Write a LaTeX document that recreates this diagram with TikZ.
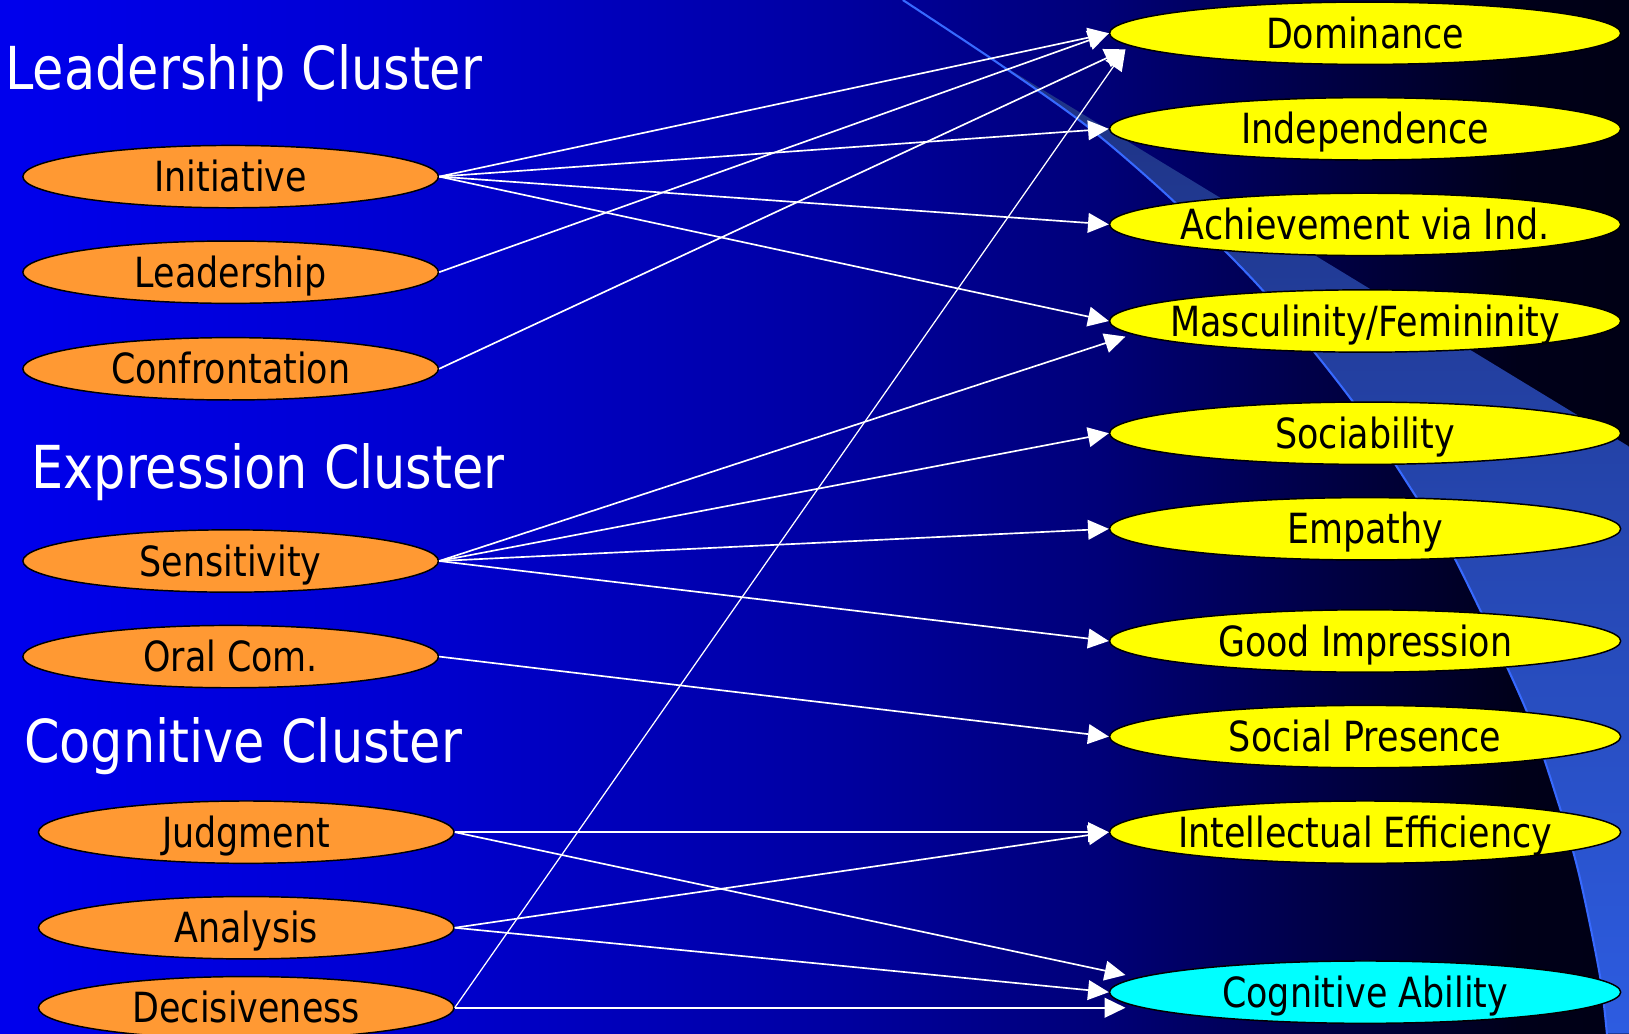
\documentclass[tikz,border=0pt]{standalone}
\usepackage{fontspec}
\usetikzlibrary{shapes.geometric,arrows.meta}
\newfontfamily\headfont[FakeStretch=0.86]{DejaVu Sans}
\newfontfamily\nodefont[FakeStretch=0.84]{DejaVu Sans}
\definecolor{orangefill}{RGB}{255,153,51}
\definecolor{yellowfill}{RGB}{255,255,0}
\definecolor{cyanfill}{RGB}{0,255,255}
\definecolor{bandtop}{RGB}{30,50,130}
\definecolor{bandbot}{RGB}{45,92,225}
\definecolor{bandline}{RGB}{55,105,255}
\pgfdeclarehorizontalshading{bgshade}{100bp}{rgb(0bp)=(0,0,0.93); rgb(25bp)=(0,0,0.93); rgb(37.5bp)=(0,0,0.82); rgb(49.5bp)=(0,0,0.65); rgb(58.75bp)=(0,0,0.47); rgb(65bp)=(0,0,0.29); rgb(69.5bp)=(0,0,0.16); rgb(71.5bp)=(0,0,0.1); rgb(75bp)=(0,0,0.08); rgb(100bp)=(0,0,0.08)}
\newcommand{\ctr}[1]{\makebox[0pt][c]{#1}}
\tikzset{
  heading/.style={anchor=base west, text=white, inner sep=0pt, font=\headfont\fontsize{57}{62}\selectfont},
  oval/.style={ellipse, draw=black, line width=1.4pt, inner sep=0pt, minimum height=60pt,
    text height=29.2pt, text depth=0pt, font=\nodefont\fontsize{40}{44}\selectfont, text=black},
  leftoval/.style={oval, fill=orangefill, minimum width=400pt},
  rightoval/.style={oval, fill=yellowfill, minimum width=492pt},
  cogoval/.style={oval, fill=cyanfill, minimum width=492pt},
  arr/.style={draw=white, line width=1.6pt, -{Triangle[length=20pt,width=19pt,fill=white]}}
}
\begin{document}
\begin{tikzpicture}[x=1pt,y=-1pt]
\useasboundingbox (0,0) rectangle (1568,995);
\clip (0,0) rectangle (1568,995);
% background
\shade[shading=bgshade] (0,0) rectangle (1568,995);
% light band
\shade[top color=bandtop, bottom color=bandbot]
  plot[smooth] coordinates {(952,55) (1047,122) (1129,193) (1215,279) (1301,385) (1363,478) (1401,539) (1468,681) (1501,776) (1520,842) (1540,939) (1547,995)}
  -- (1570,995) -- (1570,431) -- cycle;
\draw[bandline, line width=2pt]
  plot[smooth] coordinates {(869,0) (961,61) (1047,122) (1129,193) (1215,279) (1301,385) (1363,478) (1401,539) (1468,681) (1501,776) (1520,842) (1540,939) (1547,998)};
% headings
\node[heading] (hlead) at (5,86) {Leadership Cluster};
\node[heading] (hexpr) at (30,470) {Expression Cluster};
\node[heading] (hcog) at (23,734) {Cognitive Cluster};
% left nodes
\node[leftoval] (init) at (222,170) {\ctr{Initiative}};
\node[leftoval] (lead) at (222,262) {\ctr{Leadership}};
\node[leftoval] (conf) at (222,355) {\ctr{Confrontation}};
\node[leftoval] (sens) at (222,540) {\ctr{Sensitivity}};
\node[leftoval] (oral) at (222,632) {\ctr{Oral Com.}};
\node[leftoval] (judg) at (237,801) {\ctr{Judgment}};
\node[leftoval] (anal) at (237,893) {\ctr{Analysis}};
\node[leftoval] (deci) at (237,970) {\ctr{Decisiveness}};
% right nodes
\node[rightoval] (dom) at (1314,32) {\ctr{Dominance}};
\node[rightoval] (ind) at (1314,124) {\ctr{Independence}};
\node[rightoval] (ach) at (1314,216) {\ctr{Achievement via Ind.}};
\node[rightoval] (mas) at (1314,309) {\ctr{Masculinity/Femininity}};
\node[rightoval] (soc) at (1314,417) {\ctr{Sociability}};
\node[rightoval] (emp) at (1314,509) {\ctr{Empathy}};
\node[rightoval] (good) at (1314,617) {\ctr{Good Impression}};
\node[rightoval] (sp) at (1314,709) {\ctr{Social Presence}};
\node[rightoval] (ie) at (1314,801) {\ctr{Intellectual Efficiency}};
\node[cogoval] (cog) at (1314,955) {\ctr{Cognitive Ability}};
% connectors
\draw[arr] (init.east) -- (dom.west);
\draw[arr] (lead.east) -- (dom.west);
\draw[arr] (conf.east) -- ([shift={(16,15.5)}]dom.west);
\draw[arr, line width=1.2pt] (deci.east) -- ([shift={(16,15.5)}]dom.west);
\draw[arr] (init.east) -- (ind.west);
\draw[arr] (init.east) -- (ach.west);
\draw[arr] (init.east) -- (mas.west);
\draw[arr] (sens.east) -- ([shift={(16,15)}]mas.west);
\draw[arr] (sens.east) -- (soc.west);
\draw[arr] (sens.east) -- (emp.west);
\draw[arr] (sens.east) -- (good.west);
\draw[arr] (oral.east) -- (sp.west);
\draw[arr] (judg.east) -- (ie.west);
\draw[arr] (anal.east) -- (ie.west);
\draw[arr] (judg.east) -- ([shift={(16,-16.5)}]cog.west);
\draw[arr] (anal.east) -- (cog.west);
\draw[arr] (deci.east) -- ([shift={(16,15)}]cog.west);
\end{tikzpicture}
\end{document}
